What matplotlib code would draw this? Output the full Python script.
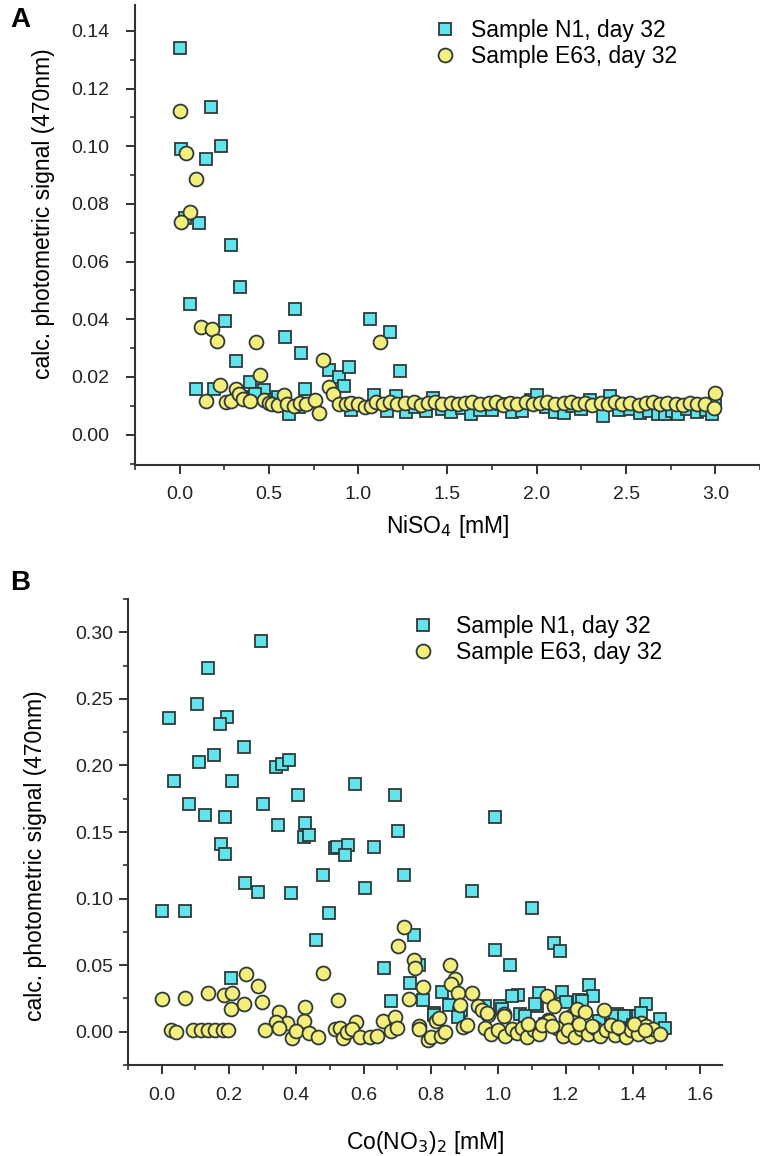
import numpy as np
import matplotlib
matplotlib.use('Agg')
from matplotlib import pyplot as plt
from matplotlib.ticker import MultipleLocator

plt.rcParams['font.family'] = ['Liberation Sans', 'DejaVu Sans']

# ---- panel A: NiSO4 ----
a_n1_x = [0.000, 0.005, 0.173, 0.230, 0.145, 0.110, 0.030, 0.285, 0.340, 0.060,
          0.253, 0.090, 0.190, 0.314, 0.395, 0.475, 0.590, 0.645, 0.680, 0.700,
          0.615, 0.834, 0.890, 0.920, 0.946, 0.960, 1.066, 1.180, 1.236, 1.090,
          1.210, 1.160, 1.270, 0.350, 0.420, 0.520, 0.550, 0.670,
          1.32, 1.38, 1.42, 1.47, 1.52, 1.58, 1.63, 1.68, 1.75, 1.80,
          1.86, 1.92, 1.97, 2.00, 2.05, 2.10, 2.15, 2.20, 2.25, 2.30,
          2.37, 2.41, 2.46, 2.52, 2.58, 2.63, 2.68, 2.72, 2.76, 2.79,
          2.84, 2.90, 2.95, 2.98, 3.00]
a_n1_y = [0.1340, 0.0990, 0.1136, 0.1000, 0.0955, 0.0735, 0.0750, 0.0658, 0.0512, 0.0452,
          0.0395, 0.0159, 0.0159, 0.0254, 0.0182, 0.0156, 0.0340, 0.0435, 0.0283, 0.0159,
          0.0072, 0.0223, 0.0200, 0.0170, 0.0234, 0.0086, 0.0400, 0.0357, 0.0220, 0.0139,
          0.0133, 0.0082, 0.0080, 0.0130, 0.0140, 0.0120, 0.0130, 0.0095,
          0.0095, 0.0082, 0.0128, 0.0090, 0.0078, 0.0092, 0.0070, 0.0085, 0.0087, 0.0105,
          0.0080, 0.0082, 0.0120, 0.0139, 0.0095, 0.0080, 0.0076, 0.0098, 0.0088, 0.0120,
          0.0064, 0.0133, 0.0085, 0.0090, 0.0076, 0.0083, 0.0072, 0.0070, 0.0082, 0.0070,
          0.0088, 0.0078, 0.0085, 0.0070, 0.0116]

a_e63_x = [0.000, 0.038, 0.094, 0.060, 0.010, 0.120, 0.180, 0.208, 0.430, 0.452,
           0.227, 0.145, 0.260, 0.287, 0.313, 0.335, 0.355, 0.395, 0.470, 0.500,
           0.520, 0.550, 0.587, 0.600, 0.640, 0.675, 0.710, 0.758, 0.782, 0.804,
           0.838, 0.860, 0.890, 0.930, 0.960, 1.000, 1.040, 1.070, 1.120,
           1.10, 1.14, 1.18, 1.22, 1.26, 1.31, 1.35, 1.39, 1.43, 1.47,
           1.52, 1.56, 1.60, 1.64, 1.68, 1.73, 1.77, 1.81, 1.85, 1.89,
           1.94, 1.98, 2.02, 2.06, 2.10, 2.15, 2.19, 2.23, 2.27, 2.31,
           2.36, 2.40, 2.44, 2.48, 2.52, 2.57, 2.61, 2.65, 2.69, 2.73,
           2.78, 2.82, 2.86, 2.90, 2.94, 2.99, 3.00]
a_e63_y = [0.1122, 0.0975, 0.0888, 0.0773, 0.0739, 0.0375, 0.0365, 0.0326, 0.0320, 0.0206,
           0.0171, 0.0118, 0.0113, 0.0118, 0.0159, 0.0142, 0.0125, 0.0116, 0.0120, 0.0110,
           0.0105, 0.0102, 0.0136, 0.0105, 0.0100, 0.0110, 0.0105, 0.0120, 0.0074, 0.0258,
           0.0165, 0.0140, 0.0105, 0.0107, 0.0110, 0.0105, 0.0095, 0.0099, 0.0320,
           0.0112, 0.0108, 0.0113, 0.0106, 0.0110, 0.0114, 0.0104, 0.0109, 0.0112, 0.0107,
           0.0111, 0.0105, 0.0110, 0.0113, 0.0106, 0.0109, 0.0112, 0.0104, 0.0110, 0.0108,
           0.0113, 0.0106, 0.0110, 0.0112, 0.0105, 0.0109, 0.0113, 0.0107, 0.0110, 0.0104,
           0.0111, 0.0108, 0.0113, 0.0106, 0.0110, 0.0104, 0.0109, 0.0112, 0.0105, 0.0110,
           0.0107, 0.0104, 0.0110, 0.0106, 0.0108, 0.0093, 0.0145]

# ---- panel B: Co(NO3)2 ----
b_n1_x = [0.296, 0.138, 0.106, 0.023, 0.194, 0.172, 0.244, 0.155, 0.112, 0.038,
          0.209, 0.339, 0.357, 0.378, 0.080, 0.128, 0.189, 0.302, 0.404, 0.345,
          0.427, 0.422, 0.438, 0.576, 0.693, 0.701, 0.514, 0.521, 0.555, 0.544,
          0.630, 0.603, 0.177, 0.187, 0.248, 0.285, 0.383, 0.000, 0.068, 0.479,
          0.498, 0.720, 0.922, 0.990, 1.100, 0.458, 0.660, 0.751, 0.990, 1.034,
          1.165, 1.183, 0.207, 0.738, 0.766, 0.832, 0.682, 0.778, 0.853, 0.809,
          0.884, 1.005, 1.059, 1.040, 1.121, 1.190, 1.270, 1.283, 1.240, 1.200,
          1.439, 1.480, 1.495, 1.115, 1.065, 1.080, 1.352, 1.390, 1.327, 1.346,
          1.375, 1.415, 1.425, 0.810, 0.890, 0.960, 1.010, 1.250, 1.110, 0.881,
          1.300, 1.140, 1.230, 1.400]
b_n1_y = [0.2933, 0.2734, 0.2464, 0.2356, 0.2364, 0.2314, 0.2136, 0.2082, 0.2026, 0.1884,
          0.1884, 0.1989, 0.2009, 0.2044, 0.1710, 0.1630, 0.1610, 0.1710, 0.1777, 0.1550,
          0.1570, 0.1460, 0.1480, 0.1860, 0.1780, 0.1510, 0.1377, 0.1390, 0.1402, 0.1327,
          0.1390, 0.1080, 0.1410, 0.1334, 0.1120, 0.1050, 0.1040, 0.0904, 0.0904, 0.1180,
          0.0889, 0.1180, 0.1057, 0.1610, 0.0928, 0.0686, 0.0475, 0.0723, 0.0611, 0.0500,
          0.0668, 0.0604, 0.0400, 0.0364, 0.0500, 0.0302, 0.0228, 0.0240, 0.0200, 0.0140,
          0.0140, 0.0196, 0.0277, 0.0270, 0.0290, 0.0300, 0.0350, 0.0265, 0.0240, 0.0220,
          0.0210, 0.0092, 0.0025, 0.0190, 0.0130, 0.0115, 0.0130, 0.0120, 0.0050, 0.0115,
          0.0115, 0.0115, 0.0140, 0.0125, 0.0160, 0.0190, 0.0170, 0.0230, 0.0210, 0.0110,
          0.0080, 0.0060, 0.0090, 0.0050]

b_e63_x = [0.000, 0.070, 0.139, 0.186, 0.209, 0.251, 0.287, 0.207, 0.245, 0.297,
           0.348, 0.427, 0.479, 0.524, 0.423, 0.373, 0.340, 0.578, 0.659, 0.694,
           0.701, 0.720, 0.750, 0.753, 0.778, 0.736, 0.766, 0.814, 0.856, 0.872,
           0.860, 0.880, 0.888, 0.923, 0.940, 0.953, 0.970, 1.018, 0.895, 1.144,
           1.167, 1.148, 1.215, 1.235, 1.258, 1.315, 1.150, 1.200, 1.425, 1.440,
           0.967, 1.016,
           0.029, 0.043, 0.094, 0.116, 0.137, 0.159, 0.181, 0.198, 0.308, 0.350,
           0.387, 0.398, 0.437, 0.466, 0.514, 0.530, 0.539, 0.550, 0.565, 0.590,
           0.620, 0.641, 0.681, 0.698, 0.765, 0.790, 0.800, 0.825, 0.830, 0.842,
           0.908,
           0.962, 0.980, 1.000, 1.020, 1.040, 1.056, 1.070, 1.085, 1.105, 1.120,
           1.174, 1.193, 1.208, 1.228, 1.247, 1.267, 1.287, 1.302, 1.321, 1.346,
           1.366, 1.380, 1.395, 1.415, 1.450, 1.460, 1.480,
           1.090, 1.130, 1.160, 1.240, 1.280, 1.335, 1.355, 1.405, 1.435]
b_e63_y = [0.0248, 0.0253, 0.0290, 0.0277, 0.0290, 0.0433, 0.0344, 0.0170, 0.0210, 0.0220,
           0.0146, 0.0183, 0.0438, 0.0240, 0.0080, 0.0062, 0.0074, 0.0070, 0.0077, 0.0110,
           0.0645, 0.0790, 0.0540, 0.0477, 0.0334, 0.0245, 0.0042, 0.0082, 0.0500, 0.0395,
           0.0360, 0.0290, 0.0200, 0.0290, 0.0190, 0.0166, 0.0127, 0.0134, 0.0035, 0.0270,
           0.0195, 0.0087, 0.0116, 0.0170, 0.0145, 0.0160, 0.0077, 0.0100, 0.0065, 0.0040,
           0.0140, 0.0115,
           0.0015, 0.0000, 0.0010, 0.0010, 0.0010, 0.0010, 0.0010, 0.0010, 0.0015, 0.0030,
           -0.0047, 0.0007, -0.0012, -0.0037, 0.0020, 0.0027, -0.0047, 0.0000, 0.0020, -0.0040,
           -0.0040, -0.0030, 0.0002, 0.0027, 0.0020, -0.0060, -0.0037, 0.0105, -0.0030, -0.0005,
           0.0050,
           0.0025, -0.0020, 0.0010, -0.0035, 0.0020, -0.0010, 0.0030, -0.0040, 0.0010, -0.0020,
           0.0030, -0.0030, 0.0015, -0.0040, 0.0020, -0.0015, 0.0030, -0.0035, 0.0010, -0.0025,
           0.0020, -0.0040, 0.0015, -0.0020, -0.0030, 0.0020, -0.0017,
           0.0060, 0.0050, 0.0040, 0.0055, 0.0045, 0.0050, 0.0035, 0.0060, 0.0010]

label_n1 = 'Sample N1, day 32'
label_e63 = 'Sample E63, day 32'
ylabel = 'calc. photometric signal (470nm)'

sq_face = '#62e4ec'
ci_face = '#f4ee7c'
edge = '#2e3a3a'

fig = plt.figure(figsize=(7.6, 11.56), dpi=100)
axA = fig.add_axes([0.1776, 0.5978, 0.8224, 0.3979])
axB = fig.add_axes([0.1684, 0.0787, 0.7816, 0.4031])


def style(ax, pad_y):
    for s in ['top', 'right']:
        ax.spines[s].set_visible(False)
    for s in ['left', 'bottom']:
        ax.spines[s].set_linewidth(1.5)
        ax.spines[s].set_color('#333333')
    ax.tick_params(which='major', length=6.5, width=1.3, labelsize=14, colors='#222222')
    ax.tick_params(which='minor', length=3.5, width=1.2, colors='#333333')
    ax.tick_params(axis='y', which='major', pad=pad_y)
    ax.tick_params(axis='x', which='major', pad=9)


legend_pos = {id(axA): ((0.478, 0.97), 0.64), id(axB): ((0.477, 0.966), 0.94)}

for ax, nx, ny, ex, ey in [(axA, a_n1_x, a_n1_y, a_e63_x, a_e63_y),
                           (axB, b_n1_x, b_n1_y, b_e63_x, b_e63_y)]:
    ax.plot(nx, ny, 's', ms=9, mfc=sq_face, mec=edge, mew=1.3, label=label_n1)
    ax.plot(ex, ey, 'o', ms=10, mfc=ci_face, mec=edge, mew=1.3, label=label_e63)
    anchor, tpad = legend_pos[id(ax)]
    ax.legend(loc='upper left', bbox_to_anchor=anchor, frameon=False, fontsize=16.5,
              handlelength=1.0, handletextpad=tpad, labelspacing=0.15,
              borderpad=0, borderaxespad=0, numpoints=1)

# panel A axes
axA.set_xlim(-0.25, 3.25)
axA.set_ylim(-0.0105, 0.149)
axA.xaxis.set_major_locator(MultipleLocator(0.5))
axA.xaxis.set_minor_locator(MultipleLocator(0.25))
axA.yaxis.set_major_locator(MultipleLocator(0.02))
axA.yaxis.set_minor_locator(MultipleLocator(0.01))
axA.xaxis.set_major_formatter(lambda v, p: f'{v:.1f}')
axA.yaxis.set_major_formatter(lambda v, p: f'{v:.2f}')
style(axA, 12)
axA.set_xlabel('NiSO$_4$ [mM]', fontsize=16.5, labelpad=7)
axA.set_ylabel(ylabel, fontsize=16.5)
axA.yaxis.set_label_coords(-0.128, 0.546)

# panel B axes
axB.set_xlim(-0.1, 1.665)
axB.set_ylim(-0.025, 0.325)
axB.xaxis.set_major_locator(MultipleLocator(0.2))
axB.xaxis.set_minor_locator(MultipleLocator(0.1))
axB.yaxis.set_major_locator(MultipleLocator(0.05))
axB.yaxis.set_minor_locator(MultipleLocator(0.025))
axB.xaxis.set_major_formatter(lambda v, p: f'{v:.1f}')
axB.yaxis.set_major_formatter(lambda v, p: f'{v:.2f}')
style(axB, 4)
axB.set_xlabel('Co(NO$_3$)$_2$ [mM]', fontsize=16.5, labelpad=18)
axB.set_ylabel(ylabel, fontsize=16.5)
axB.yaxis.set_label_coords(-0.136, 0.45)

fig.text(0.013, 0.983, 'A', fontsize=20, fontweight='bold', va='center')
fig.text(0.013, 0.496, 'B', fontsize=20, fontweight='bold', va='center')

plt.savefig('out.png', dpi=100)
